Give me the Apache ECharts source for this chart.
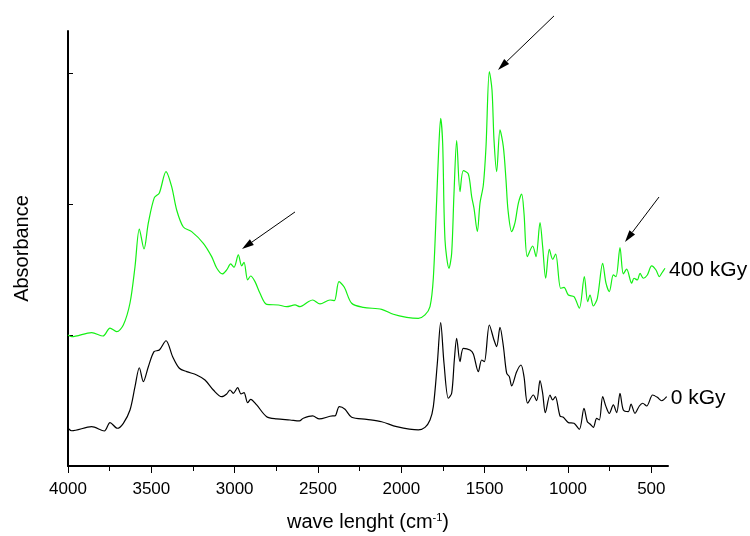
<!DOCTYPE html>
<html>
<head>
<meta charset="utf-8">
<script src="https://cdn.jsdelivr.net/npm/echarts@6/dist/echarts.min.js"></script>
<style>
  html, body { margin: 0; padding: 0; background: #fff; }
  #main { width: 750px; height: 536px; }
</style>
</head>
<body>
<div id="main"></div>
<script>
// 0 kGy spectrum (black)
const wave0 = [4000,3978,3858,3782,3748,3704,3668,3628,3598,3572,3548,3518,3484,3452,3412,3372,3332,3288,3228,3178,
  3128,3078,3048,3028,3008,2982,2962,2944,2922,2904,2868,2808,2748,2668,2612,2588,2532,2492,2412,2398,
  2372,2338,2298,2208,2118,2028,1898,1858,1828,1808,1784,1764,1744,1718,1698,1682,1668,1648,1628,1588,
  1568,1538,1518,1502,1472,1444,1428,1408,1388,1368,1352,1338,1308,1282,1264,1242,1208,1188,1168,1152,
  1136,1108,1092,1076,1048,1028,998,964,932,904,884,868,848,828,812,792,772,752,728,708,
  688,668,638,622,598,572,552,528,492,464,438,408];
const abs0 = [0.288,0.269,0.300,0.267,0.331,0.288,0.326,0.427,0.605,0.750,0.644,0.758,0.873,0.885,0.956,0.834,0.746,0.720,0.695,0.656,
  0.580,0.529,0.550,0.580,0.555,0.598,0.550,0.560,0.483,0.509,0.466,0.376,0.359,0.351,0.344,0.364,0.382,0.359,0.382,0.382,
  0.453,0.433,0.372,0.356,0.338,0.300,0.275,0.295,0.351,0.453,0.784,1.094,0.784,0.517,0.555,0.809,0.975,0.796,0.898,0.885,
  0.855,0.720,0.809,0.796,1.076,0.962,0.911,1.059,0.916,0.708,0.682,0.611,0.720,0.771,0.682,0.479,0.542,0.498,0.651,0.555,
  0.407,0.542,0.504,0.529,0.382,0.372,0.331,0.326,0.280,0.440,0.338,0.321,0.295,0.364,0.351,0.529,0.453,0.402,0.466,0.407,
  0.555,0.427,0.415,0.473,0.402,0.458,0.479,0.458,0.542,0.524,0.498,0.529];

// 400 kGy spectrum (green)
const wave400 = [4000,3978,3858,3790,3748,3708,3668,3628,3598,3572,3544,3518,3482,3452,3412,3378,3348,3308,3258,3188,
  3138,3108,3074,3048,3024,3004,2978,2958,2944,2922,2904,2878,2848,2808,2738,2688,2638,2608,2558,2532,
  2488,2428,2402,2374,2342,2298,2228,2118,2048,1968,1898,1858,1828,1808,1788,1776,1764,1752,1738,1714,
  1698,1684,1668,1648,1628,1598,1578,1564,1544,1528,1508,1492,1472,1456,1444,1428,1408,1388,1372,1360,
  1338,1318,1298,1278,1264,1244,1212,1192,1168,1152,1134,1112,1092,1074,1044,1024,998,964,932,902,
  882,868,848,824,792,772,752,728,712,688,668,648,618,604,584,568,548,524,498,472,
  452,438,418];
const abs400 = [1.000,0.987,1.018,0.992,1.053,1.025,1.076,1.244,1.521,1.809,1.656,1.855,2.048,2.084,2.247,2.132,1.954,1.824,1.789,1.700,
  1.598,1.511,1.466,1.496,1.542,1.517,1.611,1.527,1.555,1.420,1.450,1.407,1.318,1.234,1.229,1.216,1.229,1.216,1.254,1.267,
  1.237,1.267,1.262,1.407,1.364,1.242,1.211,1.196,1.158,1.135,1.127,1.153,1.216,1.435,2.031,2.412,2.654,2.463,1.725,1.509,
  1.624,2.082,2.483,2.094,2.254,2.229,2.056,1.967,1.789,2.005,2.145,2.437,3.010,2.870,2.489,2.247,2.565,2.437,2.183,1.954,
  1.789,1.857,2.005,2.076,1.929,1.598,1.679,1.598,1.857,1.674,1.433,1.654,1.578,1.618,1.356,1.364,1.305,1.292,1.204,1.445,
  1.254,1.305,1.221,1.280,1.547,1.395,1.331,1.458,1.445,1.666,1.466,1.502,1.395,1.433,1.420,1.471,1.433,1.458,1.527,1.496,
  1.445,1.471,1.509];

const majorTicks = [500,1000,1500,2000,2500,3000,3500,4000];
const minorTicks = [750,1250,1750,2250,2750,3250,3750];
const yTicks = [1,2,3];

// arrows: [tailX, tailY, headX, headY] in data units
const arrows = [
  [2638, 1.939, 2956, 1.656],
  [1084, 3.435, 1420, 3.023],
  [454, 2.053, 658, 1.710]
];

const FONT = 'Liberation Sans, Arial, sans-serif';

function pairs(xs, ys){
  return xs.map((x, i) => [x, ys[i]]);
}

var chart = echarts.init(document.getElementById('main'));
var option = {
  animation: false,
  backgroundColor: '#fff',
  grid: { left: 68, right: 82, top: 31, bottom: 70, outerBoundsMode: 'none', containLabel: false },
  xAxis: [
    {
      type: 'value', min: 400, max: 4000, inverse: true, position: 'bottom',
      axisLine: { lineStyle: { color: '#000', width: 2 } },
      axisTick: { customValues: majorTicks, length: 7, lineStyle: { color: '#000', width: 1 } },
      axisLabel: { customValues: majorTicks, color: '#000', fontSize: 17, fontFamily: FONT, margin: 15,
        formatter: function(v){ return String(v); } },
      splitLine: { show: false },
      name: 'wave lenght (cm{sup|-1})',
      nameLocation: 'middle',
      nameGap: 46,
      nameTextStyle: {
        color: '#000', fontSize: 20, fontFamily: FONT,
        rich: { sup: { fontSize: 11, fontFamily: FONT, color: '#000', verticalAlign: 'top', padding: [0, 0, 10, 0] } }
      }
    },
    {
      type: 'value', min: 400, max: 4000, inverse: true, position: 'bottom',
      axisLine: { show: false },
      axisTick: { customValues: minorTicks, length: 5, lineStyle: { color: '#000', width: 1 } },
      axisLabel: { show: false },
      splitLine: { show: false }
    }
  ],
  yAxis: {
    type: 'value', min: 0, max: 3.32,
    axisLine: { show: true, lineStyle: { color: '#000', width: 2 } },
    axisTick: { show: true, inside: true, customValues: yTicks, length: 5, lineStyle: { color: '#000' } },
    axisLabel: { show: false },
    splitLine: { show: false },
    name: 'Absorbance',
    nameLocation: 'middle',
    nameGap: 36,
    nameTextStyle: { color: '#000', fontSize: 20, fontFamily: FONT }
  },
  series: [
    {
      name: '0 kGy', type: 'line', xAxisIndex: 0, data: pairs(wave0, abs0),
      showSymbol: false, smooth: 0.3,
      lineStyle: { color: '#000', width: 1.2 }
    },
    {
      name: '400 kGy', type: 'line', xAxisIndex: 0, data: pairs(wave400, abs400),
      showSymbol: false, smooth: 0.3,
      lineStyle: { color: '#14f014', width: 1.2 }
    }
  ]
};
chart.setOption(option);

// annotation arrows and series names, positioned from data coordinates
var gfx = [];
arrows.forEach(function(a){
  var p0 = chart.convertToPixel({ gridIndex: 0 }, [a[0], a[1]]);
  var p1 = chart.convertToPixel({ gridIndex: 0 }, [a[2], a[3]]);
  var dx = p1[0] - p0[0], dy = p1[1] - p0[1];
  var len = Math.sqrt(dx * dx + dy * dy);
  var ux = dx / len, uy = dy / len;
  var hl = 12, hw = 3.5;
  var bx = p1[0] - ux * hl, by = p1[1] - uy * hl;
  gfx.push({
    type: 'line', silent: true,
    shape: { x1: p0[0], y1: p0[1], x2: bx, y2: by },
    style: { stroke: '#000', lineWidth: 1 }
  });
  gfx.push({
    type: 'polygon', silent: true,
    shape: { points: [[p1[0], p1[1]], [bx - uy * hw, by + ux * hw], [bx + uy * hw, by - ux * hw]] },
    style: { fill: '#000' }
  });
});
option.series.forEach(function(s){
  var last = s.data[s.data.length - 1];
  var p = chart.convertToPixel({ gridIndex: 0 }, last);
  gfx.push({
    type: 'text', silent: true, x: p[0] + 4, y: p[1] + 2,
    style: { text: s.name, fill: '#000', font: '21px ' + FONT, align: 'left', verticalAlign: 'middle' }
  });
});
chart.setOption({ graphic: gfx });
</script>
</body>
</html>
